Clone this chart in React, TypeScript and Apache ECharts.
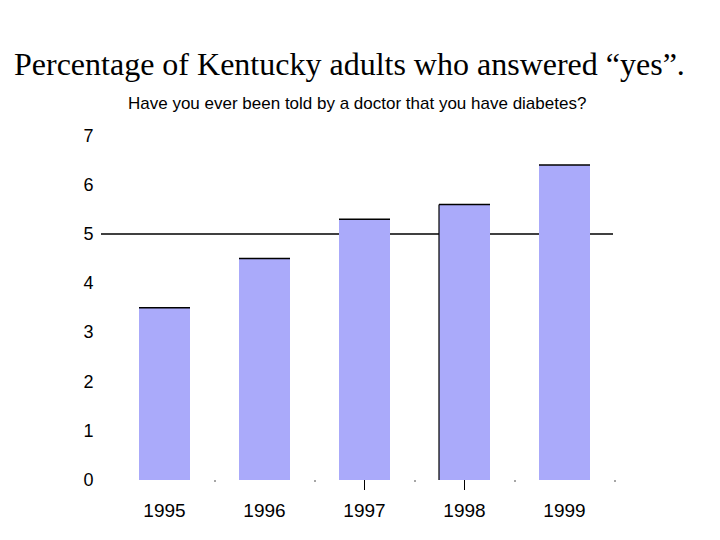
import { useEffect, useRef } from "react";
import * as echarts from "echarts";

const years = ["1995", "1996", "1997", "1998", "1999"];
const percentYes = [3.5, 4.5, 5.3, 5.6, 6.4];
const referenceLevel = 5;
const yMax = 7;
const tickedYears = ["1997", "1998"];
const leftEdgeYears = ["1998"];

const titleText = "Percentage of Kentucky adults who answered \u201cyes\u201d.";
const subtitleText = "Have you ever been told by a doctor that you have diabetes?";

const SANS = "Liberation Sans, Arial, sans-serif";
const SERIF = "Liberation Serif, Times New Roman, serif";

export default function App() {
  const ref = useRef<HTMLDivElement>(null);

  useEffect(() => {
    if (!ref.current) return;
    const chart = echarts.init(ref.current, undefined, { renderer: "svg" });

    const gridBox = { left: 114.5, right: 105.5, top: 135.6, bottom: 60 };

    chart.setOption({
      animation: false,
      backgroundColor: "#ffffff",
      title: [
        {
          text: titleText,
          left: 9,
          top: 43,
          textStyle: { fontFamily: SERIF, fontSize: 32, fontWeight: "normal", color: "#000" },
        },
        {
          text: subtitleText,
          left: 123,
          top: 90,
          textStyle: { fontFamily: SANS, fontSize: 17, fontWeight: "normal", color: "#000" },
        },
      ],
      grid: [
        { ...gridBox },
        // reference line runs a little past the plot on the left
        { left: 101, right: 107, top: gridBox.top, bottom: gridBox.bottom },
      ],
      xAxis: [
        {
          type: "category",
          gridIndex: 0,
          data: years,
          axisLine: { show: false },
          axisTick: {
            show: true,
            alignWithLabel: true,
            length: 10,
            interval: (_i: number, v: string) => tickedYears.includes(v),
            lineStyle: { color: "#000", width: 1 },
          },
          axisLabel: { color: "#000", fontSize: 19, fontFamily: SANS, margin: 21 },
        },
        {
          type: "category",
          gridIndex: 0,
          data: years,
          position: "bottom",
          axisLine: { show: false },
          axisLabel: { show: false },
          axisTick: {
            show: true,
            length: 2,
            interval: (i: number) => i > 0,
            lineStyle: { color: "#888", width: 1.5 },
          },
        },
        { type: "value", gridIndex: 1, min: 0, max: 1, show: false },
      ],
      yAxis: [
        {
          type: "value",
          gridIndex: 0,
          min: 0,
          max: yMax,
          interval: 1,
          axisLine: { show: false },
          axisTick: { show: false },
          splitLine: { show: false },
          axisLabel: { color: "#000", fontSize: 18, fontFamily: SANS, margin: 21 },
        },
        { type: "value", gridIndex: 1, min: 0, max: yMax, show: false },
      ],
      series: [
        {
          name: "reference",
          type: "line",
          xAxisIndex: 2,
          yAxisIndex: 1,
          data: [[0, referenceLevel], [1, referenceLevel]],
          symbol: "none",
          lineStyle: { color: "#000", width: 1.5 },
          z: 1,
          silent: true,
        },
        {
          name: "yes",
          type: "bar",
          xAxisIndex: 0,
          yAxisIndex: 0,
          data: percentYes,
          barWidth: "51%",
          itemStyle: { color: "#aaaafa" },
          z: 2,
        },
        {
          name: "edges",
          type: "custom",
          xAxisIndex: 0,
          yAxisIndex: 0,
          z: 3,
          silent: true,
          data: years.map((y, i) => [i, percentYes[i], leftEdgeYears.includes(y) ? 1 : 0]),
          renderItem: (_params: any, api: any) => {
            const idx = api.value(0);
            const top = api.coord([idx, api.value(1)]);
            const base = api.coord([idx, 0]);
            const w = api.size([1, 0])[0] * 0.51;
            const x0 = top[0] - w / 2;
            const children: any[] = [
              {
                type: "line",
                shape: { x1: x0, y1: top[1], x2: x0 + w, y2: top[1] },
                style: { stroke: "#000", lineWidth: 1.5 },
              },
            ];
            if (api.value(2)) {
              children.push({
                type: "line",
                shape: { x1: x0, y1: top[1], x2: x0, y2: base[1] },
                style: { stroke: "#000", lineWidth: 1.2 },
              });
            }
            return { type: "group", children };
          },
        },
      ],
    });

    return () => chart.dispose();
  }, []);

  return (
    <div
      ref={ref}
      style={{ position: "absolute", left: 0, top: 0, width: 720, height: 540 }}
    />
  );
}
